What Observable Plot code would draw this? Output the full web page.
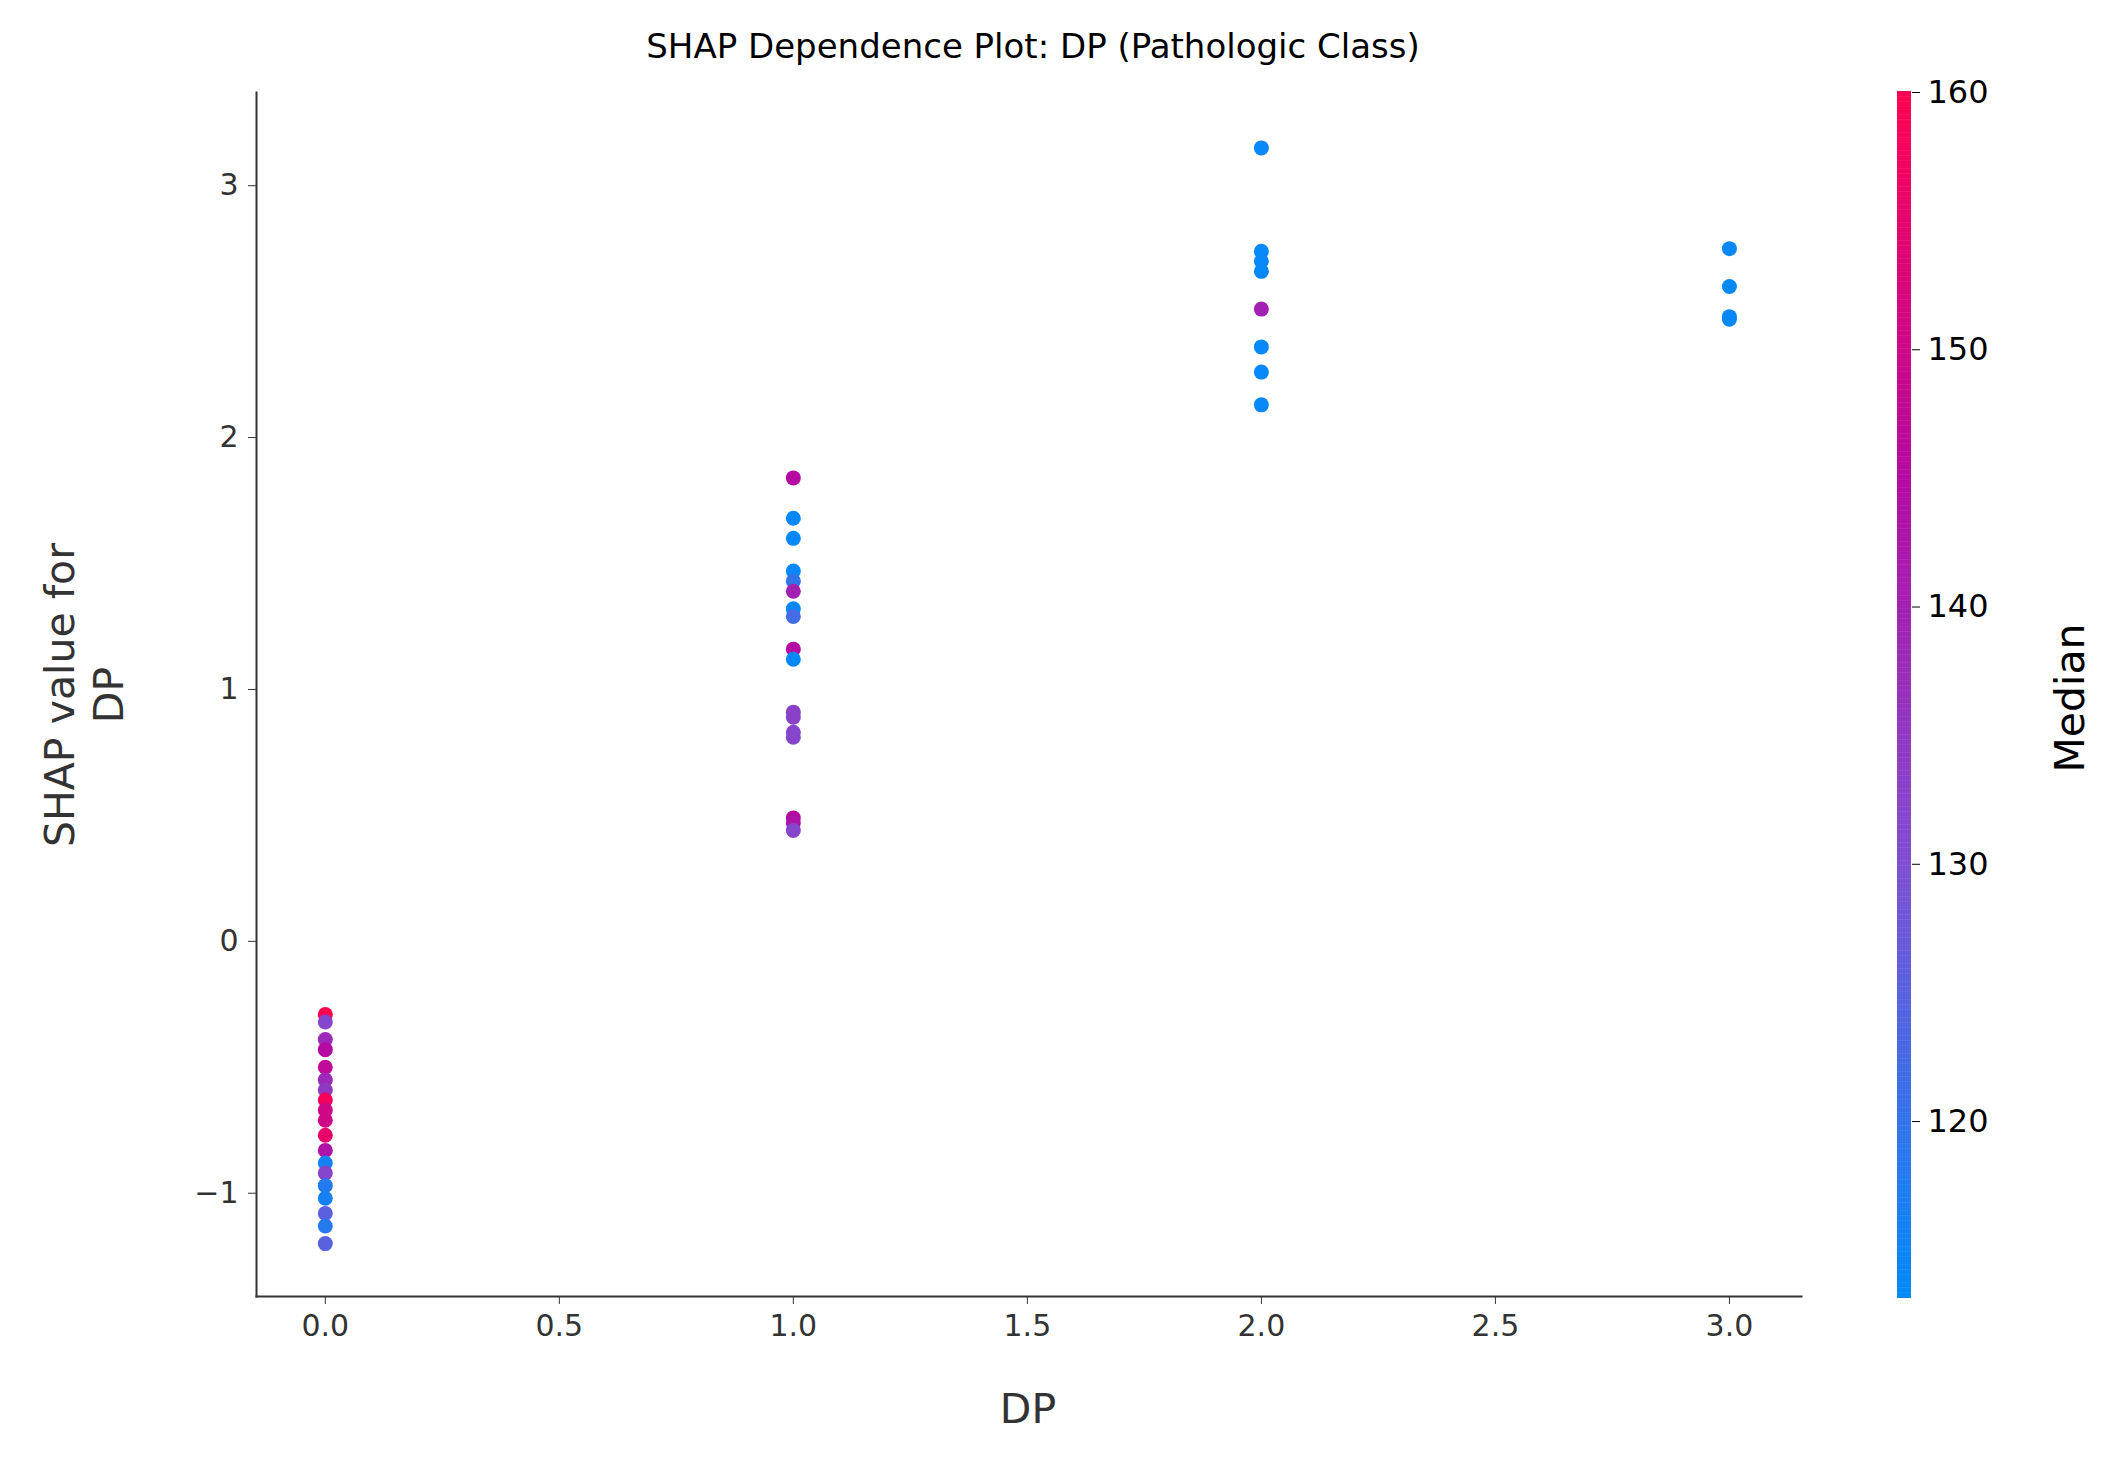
<!DOCTYPE html>
<html><head><meta charset="utf-8">
<script src="https://cdn.jsdelivr.net/npm/d3@7"></script>
<script src="https://cdn.jsdelivr.net/npm/@observablehq/plot@0.6"></script>
<style>
body{margin:0;background:#fff;font-family:"DejaVu Sans",sans-serif;}
#wrap{position:relative;width:2126px;height:1470px;}
.t{position:absolute;color:#000;white-space:nowrap;}
</style></head><body>
<div id="wrap">
  <div class="t" id="title" style="left:0;width:2066px;text-align:center;top:26px;font-size:34px;">SHAP Dependence Plot: DP (Pathologic Class)</div>
  <div class="t" style="left:85px;top:695px;font-size:41px;color:#333;text-align:center;line-height:1.2;transform:translate(-50%,-50%) rotate(-90deg);">SHAP value for<br>DP</div>
  <div class="t" style="left:1028px;top:1385px;font-size:41px;color:#333;transform:translateX(-50%);">DP</div>
  <div class="t" style="left:2070px;top:698px;font-size:41px;transform:translate(-50%,-50%) rotate(-90deg);">Median</div>
  <div id="chart" style="position:absolute;left:0;top:0;"></div>
  <div id="bar" style="position:absolute;left:1897px;top:0;"></div>
</div>
<script>
const dpValues = [0,0,0,0,0,0,0,0,0,0,0,0,0,0,0,0,0,0,0,
  1,1,1,1,1,1,1,1,1,1,1,1,1,1,1,1,1,
  2,2,2,2,2,2,2,2,
  3,3,3,3];
const shapValues = [-0.29,-0.32,-0.39,-0.43,-0.50,-0.55,-0.59,-0.63,-0.67,-0.71,-0.77,-0.83,-0.88,-0.92,-0.97,-1.02,-1.08,-1.13,-1.20,
  1.84,1.68,1.60,1.47,1.43,1.39,1.32,1.29,1.16,1.12,0.91,0.89,0.83,0.81,0.49,0.47,0.44,
  3.15,2.74,2.70,2.66,2.51,2.36,2.26,2.13,
  2.75,2.60,2.48,2.47];
const medianValues = [160,132,138,145,147,138,135,158,150,150,155,143,116,132,118,116,125,118,125,
  145,114,114,114,120,140,114,122,145,114,133,133,132,132,145,143,132,
  114,114,114,114,140,114,114,114,
  114,114,114,114];

const data = dpValues.map((dp, i) => ({dp, shap: shapValues[i], median: medianValues[i]}));
const colorDomain = [113.2, 160];
const colorScale = {type: "linear", domain: [113.2, 130, 145, 160], range: ["#008bfb", "#7f4fd2", "#b50aa2", "#ff0051"]};
const tickFont = {fontSize: 30, fill: "#333"};

const chart = Plot.plot({
  width: 2126, height: 1470,
  marginLeft: 256, marginRight: 325, marginTop: 92, marginBottom: 174,
  style: {fontFamily: "DejaVu Sans", color: "#333"},
  x: {domain: [-0.147, 3.154]},
  y: {domain: [-1.41, 3.37]},
  color: colorScale,
  marks: [
    Plot.axisX({ticks: d3.range(0, 3.01, 0.5), tickFormat: d3.format(".1f"), label: null, tickSize: 8, tickPadding: 10, fontSize: 30}),
    Plot.axisY({ticks: [-1, 0, 1, 2, 3], tickFormat: d => d < 0 ? "\u2212" + Math.abs(d) : d, label: null, tickSize: 8, tickPadding: 10, fontSize: 30}),
    Plot.frame({anchor: "left", stroke: "#333", strokeWidth: 2}),
    Plot.frame({anchor: "bottom", stroke: "#333", strokeWidth: 2}),
    Plot.dot(data, {x: "dp", y: "shap", fill: "median", r: 7.5})
  ]
});
document.getElementById("chart").append(chart);

const barSteps = d3.range(colorDomain[0], colorDomain[1] + 0.05, 0.1);
const bar = Plot.plot({
  width: 200, height: 1470,
  marginLeft: 0, marginRight: 186, marginTop: 92, marginBottom: 174,
  style: {fontFamily: "DejaVu Sans", color: "#000"},
  x: {axis: null, domain: [0, 1]},
  y: {domain: colorDomain},
  color: colorScale,
  marks: [
    Plot.ruleY(barSteps, {y: d => d, stroke: d => d, strokeWidth: 3}),
    Plot.axisY({anchor: "right", ticks: [120, 130, 140, 150, 160], label: null, tickSize: 8, tickPadding: 8, fontSize: 32})
  ]
});
document.getElementById("bar").append(bar);
</script>
</body></html>
